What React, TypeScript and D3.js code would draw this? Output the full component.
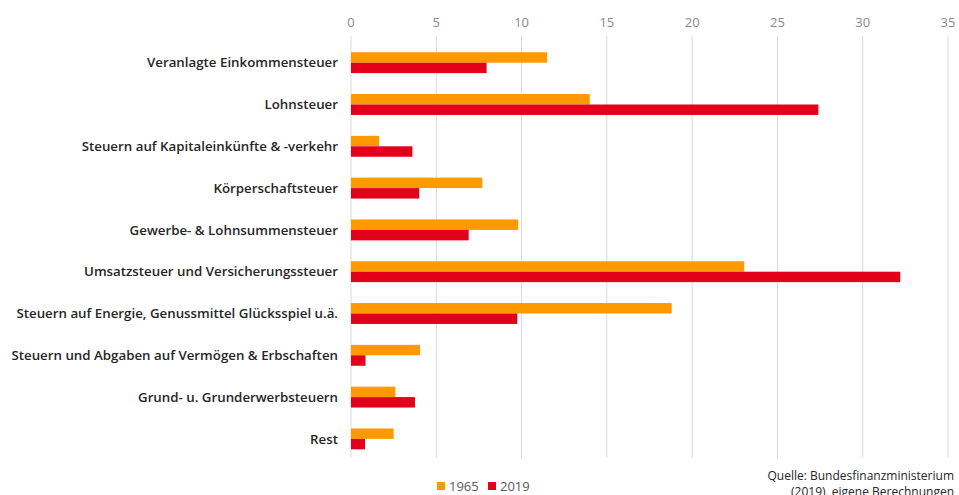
import React from "react";
import * as d3 from "d3";

const categories = [
  "Veranlagte Einkommensteuer",
  "Lohnsteuer",
  "Steuern auf Kapitaleinkünfte & -verkehr",
  "Körperschaftsteuer",
  "Gewerbe- & Lohnsummensteuer",
  "Umsatzsteuer und Versicherungssteuer",
  "Steuern auf Energie, Genussmittel Glücksspiel u.ä.",
  "Steuern und Abgaben auf Vermögen & Erbschaften",
  "Grund- u. Grunderwerbsteuern",
  "Rest",
];
const values1965 = [11.5, 14.0, 1.65, 7.7, 9.8, 23.05, 18.8, 4.05, 2.6, 2.5];
const values2019 = [7.95, 27.4, 3.6, 4.0, 6.9, 32.2, 9.75, 0.85, 3.75, 0.82];
const xTicks = [0, 5, 10, 15, 20, 25, 30, 35];
const seriesNames = ["1965", "2019"];
const sourceLines = ["Quelle: Bundesfinanzministerium", "(2019), eigene Berechnungen"];

const COLORS = ["#FF9900", "#E2001A"];
const W = 959;
const H = 495;

export default function App() {
  const x = d3.scaleLinear().domain([0, 35]).range([351, 948]);
  const y = d3.scaleBand<string>().domain(categories).range([41.8, 459.8]).paddingInner(0.5).paddingOuter(0.25);
  const bh = y.bandwidth() / 2;
  const series = [values1965, values2019];
  const font = "'Open Sans', 'Segoe UI', sans-serif";

  return (
    <svg width={W} height={H} style={{ position: "absolute", left: 0, top: 0, fontFamily: font }}>
      <rect width={W} height={H} fill="#fff" />
      {xTicks.map((t) => (
        <g key={t}>
          <line x1={x(t)} x2={x(t)} y1={36} y2={458} stroke="#d9d9d9" strokeWidth={1} />
          <text x={x(t)} y={27} textAnchor="middle" fontSize={13} fill="#8a8a8a">
            {t}
          </text>
        </g>
      ))}
      {categories.map((c, i) => (
        <g key={c}>
          {series.map((vals, s) => (
            <rect
              key={s}
              x={x(0)}
              y={(y(c) as number) + s * bh}
              width={x(vals[i]) - x(0)}
              height={bh}
              fill={COLORS[s]}
            />
          ))}
          <text
            x={338}
            y={(y(c) as number) + y.bandwidth() / 2}
            dy="0.35em"
            textAnchor="end"
            fontSize={13.3}
            fontWeight={600}
            fill="#262626"
          >
            {c}
          </text>
        </g>
      ))}
      {seriesNames.map((n, s) => (
        <g key={n} transform={`translate(${437 + s * 51},0)`}>
          <rect x={0} y={482} width={8} height={8} fill={COLORS[s]} />
          <text x={12} y={491} fontSize={13} fill="#595959">
            {n}
          </text>
        </g>
      ))}
      {sourceLines.map((l, i) => (
        <text key={i} x={954} y={480 + i * 16} textAnchor="end" fontSize={12} fill="#262626">
          {l}
        </text>
      ))}
    </svg>
  );
}
